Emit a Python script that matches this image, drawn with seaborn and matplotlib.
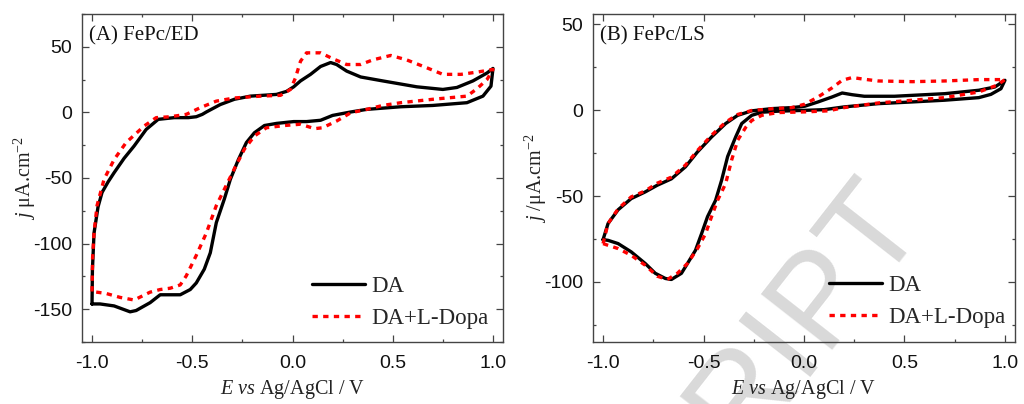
import matplotlib
matplotlib.use("Agg")
import matplotlib.pyplot as plt
import seaborn as sns
from matplotlib.ticker import MultipleLocator

# --- (A) FePc/ED ---
a_da_E = [-1.0, -0.998, -0.99, -0.97, -0.95, -0.92, -0.89, -0.84, -0.79, -0.73, -0.67,
          -0.59, -0.52, -0.48, -0.45, -0.43, -0.36, -0.29, -0.21, -0.08, -0.03, 0.006,
          0.04, 0.09, 0.14, 0.19, 0.22, 0.27, 0.34, 0.45, 0.62, 0.75, 0.82, 0.9, 0.97, 1.0,
          0.99, 0.95, 0.87, 0.7, 0.54, 0.37, 0.29, 0.2, 0.14, 0.07, 0.006, -0.08, -0.14,
          -0.19, -0.23, -0.27, -0.31, -0.34, -0.38, -0.41, -0.44, -0.48, -0.51, -0.56,
          -0.61, -0.66, -0.71, -0.78, -0.81, -0.89, -0.96, -1.0]
a_da_j = [-146, -120, -92, -72, -61, -53, -46, -35, -25.6, -13, -5.3,
          -4, -4, -3.3, -1.5, 0.3, 6, 10, 12.4, 13.7, 16, 19.5,
          24, 29, 35, 38, 36.5, 31.5, 27, 24, 19.5, 17.5, 19, 24, 30, 33.5,
          20, 12.4, 7.4, 5.3, 4.3, 2.3, 0.3, -2.3, -6, -7, -7, -8.4, -10,
          -15.5, -23, -36, -51, -66, -84, -107, -119.5, -130, -135, -139,
          -139, -139, -145, -151, -152, -147.5, -146, -146]

a_dopa_E = [-1.0, -0.997, -0.99, -0.975, -0.94, -0.89, -0.83, -0.74, -0.68, -0.61, -0.53,
            -0.46, -0.38, -0.29, -0.16, -0.06, -0.01, 0.014, 0.04, 0.07, 0.14, 0.2, 0.27,
            0.34, 0.4, 0.49, 0.57, 0.67, 0.75, 0.84, 0.92, 1.0,
            0.97, 0.92, 0.87, 0.7, 0.54, 0.45, 0.37, 0.29, 0.22, 0.15, 0.11, 0.04, -0.04,
            -0.13, -0.19, -0.24, -0.29, -0.34, -0.38, -0.43, -0.48, -0.53, -0.56, -0.61,
            -0.66, -0.71, -0.79, -0.86, -0.93, -1.0]
a_dopa_j = [-136.5, -110, -92, -71, -51, -36, -23, -10.4, -4, -3.3, -1.5,
            3.6, 8.6, 11, 12.4, 13, 17.5, 26, 39, 45.4, 45.4, 41, 36.5,
            36.5, 40, 43.4, 40, 34, 29, 29, 30.7, 32.7,
            25, 18, 12.4, 10, 7.4, 5.3, 2.3, -0.3, -6.6, -11.7, -12.4, -9, -10,
            -11.7, -18, -28, -43, -58.6, -71, -92, -109, -124.6, -131.5, -134,
            -135, -137, -143, -141, -138, -136.5]

# --- (B) FePc/LS ---
b_da_E = [-1.0, -0.975, -0.925, -0.86, -0.79, -0.73, -0.66, -0.59, -0.53, -0.46, -0.39,
          -0.33, -0.26, -0.16, -0.06, 0.004, 0.07, 0.14, 0.19, 0.24, 0.3, 0.45, 0.7, 0.87,
          0.95, 1.0,
          0.98, 0.93, 0.87, 0.7, 0.54, 0.37, 0.2, 0.1, 0.004, -0.13, -0.21, -0.26, -0.31,
          -0.34, -0.38, -0.41, -0.44, -0.48, -0.51, -0.54, -0.58, -0.61, -0.66, -0.69,
          -0.74, -0.79, -0.86, -0.925, -0.975, -1.0]
b_da_j = [-75.4, -66, -58, -51.5, -47.6, -43.7, -40, -33, -24.3, -15.6, -7.8,
          -3, -0.4, 0.9, 1.5, 2.3, 4.8, 7.7, 10, 9, 8.1, 8.1, 9.6, 11.6,
          13.5, 17.4,
          12.5, 9.2, 7.3, 5.8, 4.8, 3.8, 1.9, 0.3, -0.1, -0.6, -1.2, -3, -7.8,
          -15.6, -27, -40.8, -52.5, -62, -72, -81.6, -89.3, -95, -98.6, -98,
          -95, -89.3, -82.5, -77.7, -75.8, -75.4]

b_dopa_E = [-1.0, -0.975, -0.925, -0.86, -0.79, -0.73, -0.66, -0.59, -0.53, -0.46, -0.39,
            -0.33, -0.26, -0.16, -0.06, 0.004, 0.07, 0.14, 0.19, 0.24, 0.3, 0.37, 0.54,
            0.7, 0.87, 1.0,
            0.96, 0.87, 0.7, 0.54, 0.37, 0.2, 0.12, 0.004, -0.13, -0.21, -0.26, -0.29,
            -0.33, -0.36, -0.39, -0.43, -0.46, -0.49, -0.53, -0.58, -0.63, -0.68, -0.73,
            -0.79, -0.86, -0.925, -0.975, -1.0]
b_dopa_j = [-77.7, -66, -57.5, -50.5, -47, -42.5, -39, -32, -23.5, -14.6, -7,
            -2.5, -0.2, 0.8, 1.5, 3.5, 7.7, 13, 17.4, 19, 18, 17, 16.6,
            17, 17.8, 17.8,
            14.5, 10.6, 7.3, 5.8, 4.2, 1.5, -0.4, -1, -1.4, -3, -6, -10,
            -17.5, -29, -42.8, -52.5, -62, -72, -80.6, -89.3, -95, -98.6, -96.7,
            -90.3, -84.5, -80.6, -78.7, -77.7]

series_labels = ["DA", "DA+L-Dopa"]

sns.set_style("ticks")
plt.rcParams["font.family"] = ["Liberation Serif", "DejaVu Serif"]
plt.rcParams["mathtext.fontset"] = "custom"
plt.rcParams["mathtext.rm"] = "Liberation Serif"
plt.rcParams["mathtext.it"] = "Liberation Serif:italic"

fig = plt.figure(figsize=(10.24, 4.04), dpi=100)
ax_a = fig.add_axes([82 / 1024, 1 - 342 / 404, 421 / 1024, 328 / 404])
ax_b = fig.add_axes([593 / 1024, 1 - 342 / 404, 422 / 1024, 328 / 404])

# watermark behind everything
fig.text(925 / 1024, 1 - 218 / 404, "MANUSCRIPT", fontsize=94, color="#d9d9d9",
         family="Liberation Sans", rotation=52, rotation_mode="anchor",
         ha="right", va="baseline", zorder=-1)

panels = [
    (ax_a, a_da_E, a_da_j, a_dopa_E, a_dopa_j, "(A) FePc/ED", (-175, 75),
     [-150, -100, -50, 0, 50], "$j$ μA.cm$^{-2}$", (312, 276)),
    (ax_b, b_da_E, b_da_j, b_dopa_E, b_dopa_j, "(B) FePc/LS", (-135, 56),
     [-100, -50, 0, 50], "$j$ /μA.cm$^{-2}$", (829, 275)),
]

for ax, e1, j1, e2, j2, title, ylim, yticks, ylab, leg_xy in panels:
    ax.set_facecolor("none")
    sns.lineplot(x=e1, y=j1, sort=False, estimator=None, color="black",
                 linewidth=2.4, label=series_labels[0], ax=ax)
    sns.lineplot(x=e2, y=j2, sort=False, estimator=None, color="#ff0000",
                 linewidth=2.4, linestyle=(0, (1.6, 1.6)),
                 label=series_labels[1], ax=ax)
    ax.set_xlim(-1.05, 1.05)
    ax.set_ylim(*ylim)
    ax.set_xticks([-1.0, -0.5, 0.0, 0.5, 1.0])
    ax.set_xticklabels(["-1.0", "-0.5", "0.0", "0.5", "1.0"])
    ax.set_yticks(yticks)
    ax.set_yticklabels([str(v) for v in yticks])
    ax.xaxis.set_minor_locator(MultipleLocator(0.25))
    ax.yaxis.set_minor_locator(MultipleLocator(25))
    ax.tick_params(which="both", direction="in", top=True, right=True,
                   color="#444444", width=0.9)
    ax.tick_params(which="major", length=5, labelsize=14, labelcolor="#111111")
    ax.tick_params(axis="x", which="major", pad=9)
    ax.tick_params(axis="y", which="major", pad=7)
    ax.tick_params(which="minor", length=2.5)
    for lab in ax.get_xticklabels() + ax.get_yticklabels():
        lab.set_family("Liberation Sans")
    for s in ax.spines.values():
        s.set_color("#444444")
        s.set_linewidth(1.0)
    ax.set_xlabel("$E$ $vs$ Ag/AgCl / V", fontsize=14.5, color="#222222")
    ax.xaxis.set_label_coords(0.5, -0.11)
    ax.set_ylabel(ylab, fontsize=14.5, color="#222222")
    ax.yaxis.set_label_coords(-0.105, 0.5)
    ax.text(0.017, 0.92, title, transform=ax.transAxes, fontsize=15,
            color="#111111", ha="left", va="baseline")
    ax.legend(loc="upper left", bbox_to_anchor=(leg_xy[0] / 1024, 1 - leg_xy[1] / 404),
              bbox_transform=fig.transFigure, frameon=False, fontsize=16.5,
              handlelength=2.3, handletextpad=0.3, labelspacing=0.47,
              borderpad=0, borderaxespad=0)

fig.savefig("out.png", dpi=100)
